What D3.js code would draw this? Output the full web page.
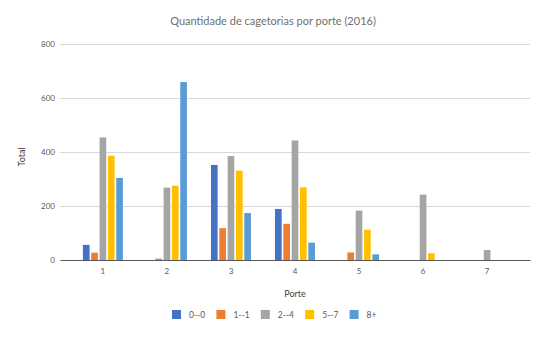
<!DOCTYPE html>
<html>
<head>
<meta charset="utf-8">
<script src="https://cdn.jsdelivr.net/npm/d3@7"></script>
<style>
  html, body { margin: 0; padding: 0; background: #fff; }
  svg { display: block; font-family: Lato, "Open Sans", sans-serif; }
</style>
</head>
<body>
<svg id="chart" width="547" height="337"></svg>
<script>
// Porte categories and the size-class series
const portes = ["1", "2", "3", "4", "5", "6", "7"];
const seriesNames = ["0--0", "1--1", "2--4", "5--7", "8+"];
const seriesColors = ["#4472C4", "#ED7D31", "#A5A5A5", "#FFC000", "#5B9BD5"];

// Totals per porte, one array per series
const s00 = [56, 0, 352, 189, 0, 0, 0];
const s11 = [27, 5, 118, 134, 28, 0, 0];
const s24 = [454, 268, 385, 443, 183, 242, 37];
const s57 = [386, 275, 331, 269, 112, 25, 0];
const s8p = [304, 659, 174, 64, 21, 0, 0];
const seriesValues = [s00, s11, s24, s57, s8p];

const yTicks = [0, 200, 400, 600, 800];

const svg = d3.select("#chart");
const plot = { left: 60, right: 530, top: 44, bottom: 260 };

const x0 = d3.scaleBand()
  .domain(portes)
  .range([plot.left, plot.right])
  .paddingInner(0)
  .paddingOuter(0.17);

const x1 = d3.scaleBand()
  .domain(seriesNames)
  .range([-20, 20])
  .paddingInner(0.2);

const y = d3.scaleLinear()
  .domain([0, 800])
  .range([plot.bottom, plot.top]);

// Title
svg.append("text")
  .attr("x", 273)
  .attr("y", 25)
  .attr("text-anchor", "middle")
  .attr("fill", "#6f6f6f")
  .attr("font-size", 11)
  .text("Quantidade de cagetorias por porte (2016)");

// Horizontal gridlines and value labels
const yAxis = d3.axisLeft(y)
  .tickValues(yTicks)
  .tickSize(-(plot.right - plot.left))
  .tickPadding(5)
  .tickFormat(d3.format("d"));

const gy = svg.append("g")
  .attr("transform", `translate(${plot.left},0)`)
  .call(yAxis);
gy.select(".domain").remove();
gy.selectAll(".tick line").attr("stroke", "#d9d9d9").attr("stroke-width", 1);
gy.selectAll(".tick text")
  .attr("fill", "#595959")
  .attr("font-size", 8)
  .attr("font-family", "Lato, sans-serif");

// Bars
const groups = svg.append("g")
  .selectAll("g")
  .data(portes)
  .join("g")
  .attr("transform", d => `translate(${x0(d) + x0.bandwidth() / 2},0)`);

groups.selectAll("rect")
  .data((p, i) => seriesNames.map((s, k) => ({ s, k, v: seriesValues[k][i] })))
  .join("rect")
  .attr("x", d => x1(d.s))
  .attr("width", x1.bandwidth())
  .attr("y", d => y(d.v))
  .attr("height", d => y(0) - y(d.v))
  .attr("fill", d => seriesColors[d.k]);

// Category axis
const xAxis = d3.axisBottom(x0).tickSize(0).tickPadding(8);
const gx = svg.append("g")
  .attr("transform", `translate(0,${plot.bottom})`)
  .call(xAxis);
gx.select(".domain").attr("stroke", "#595959").attr("stroke-width", 1.2);
gx.selectAll(".tick text")
  .attr("fill", "#595959")
  .attr("font-size", 8)
  .attr("font-family", "Lato, sans-serif");

// Axis titles
svg.append("text")
  .attr("x", (plot.left + plot.right) / 2)
  .attr("y", 297)
  .attr("text-anchor", "middle")
  .attr("fill", "#404040")
  .attr("font-size", 9)
  .text("Porte");

svg.append("text")
  .attr("transform", `translate(25,157) rotate(-90)`)
  .attr("text-anchor", "middle")
  .attr("fill", "#404040")
  .attr("font-size", 9)
  .text("Total");

// Legend
const legend = svg.append("g")
  .selectAll("g")
  .data(seriesNames)
  .join("g")
  .attr("transform", (d, i) => `translate(${172 + i * 44.4},310)`);

legend.append("rect")
  .attr("width", 9)
  .attr("height", 9)
  .attr("fill", (d, i) => seriesColors[i]);

legend.append("text")
  .attr("x", 17)
  .attr("y", 7.5)
  .attr("fill", "#595959")
  .attr("font-size", 8.5)
  .text(d => d);
</script>
</body>
</html>
